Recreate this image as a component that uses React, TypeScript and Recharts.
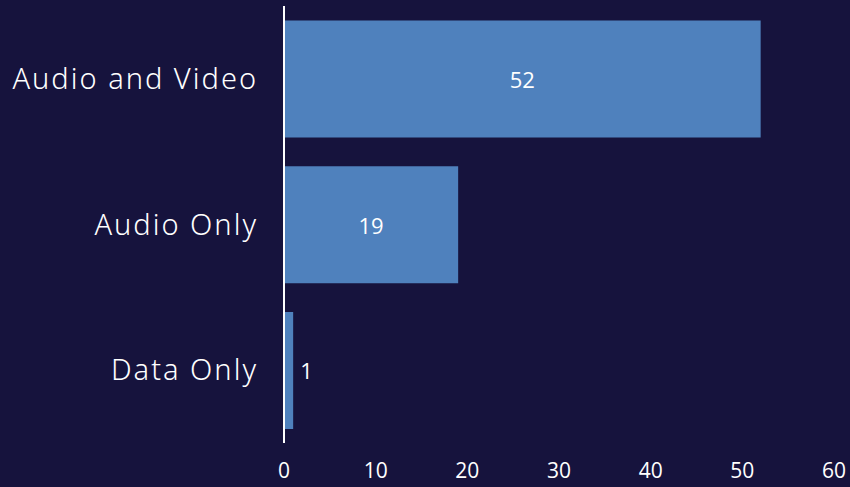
import { Bar, BarChart, LabelList, XAxis, YAxis } from "recharts"

const categories = ["Audio and Video", "Audio Only", "Data Only"]
const counts = [52, 19, 1]
const xTicks = [0, 10, 20, 30, 40, 50, 60]

const data = categories.map((name, i) => ({ name, count: counts[i] }))

const BG = "#16133d"
const BAR = "#4f81bd"

const ValueLabel = (props: any) => {
  const { x, y, width, height, value } = props
  const inside = width > 40
  return (
    <text
      x={inside ? x + width / 2 : x + width + 7}
      y={y + height / 2}
      fill="#ffffff"
      fontSize={22}
      fontFamily="'Open Sans', sans-serif"
      textAnchor={inside ? "middle" : "start"}
      dominantBaseline="central"
    >
      {value}
    </text>
  )
}

export default function App() {
  return (
    <div style={{ position: "absolute", left: 0, top: 0, width: 850, height: 487, background: BG }}>
      <BarChart
        width={850}
        height={487}
        data={data}
        layout="vertical"
        margin={{ top: 6, right: 16, bottom: 0, left: 0 }}
        barCategoryGap="10%"
      >
        <XAxis
          type="number"
          domain={[0, 60]}
          ticks={xTicks}
          axisLine={false}
          tickLine={false}
          tickSize={0}
          tickMargin={20}
          height={44}
          interval={0}
          tick={{ fill: "#ffffff", fontSize: 21, fontFamily: "'Open Sans', sans-serif" }}
        />
        <YAxis
          type="category"
          dataKey="name"
          width={284}
          axisLine={{ stroke: "#ffffff", strokeWidth: 2 }}
          tickLine={false}
          tickSize={0}
          tickMargin={26}
          tick={{
            fill: "#ffffff",
            fontSize: 29,
            fontWeight: 300,
            letterSpacing: 2,
            fontFamily: "'Noto Sans', sans-serif",
          }}
        />
        <Bar dataKey="count" fill={BAR} isAnimationActive={false}>
          <LabelList dataKey="count" content={ValueLabel} />
        </Bar>
      </BarChart>
    </div>
  )
}
